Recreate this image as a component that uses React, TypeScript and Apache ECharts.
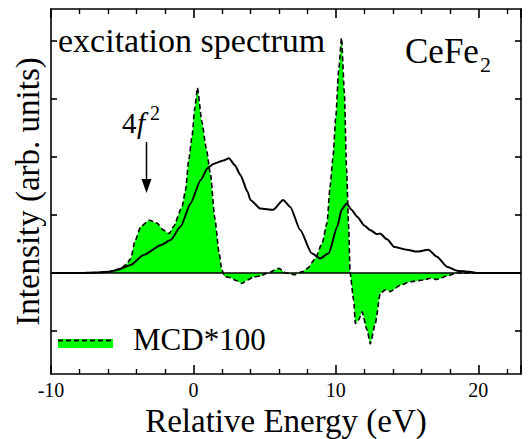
import React, { useEffect, useRef } from "react";
import * as echarts from "echarts";

// Excitation spectrum (solid black line)
const specX = [-10, -8, -7, -6, -5.4, -4.4, -3.5, -2.3, -1.6, -0.9, -0.2, 0.5, 1.0, 1.4, 2.1, 2.5, 2.9, 3.3, 3.8, 4.0, 4.7, 5.6, 6.3, 6.8, 7.5, 8.3, 8.9, 9.5, 10.1, 10.4, 10.75, 11.1, 11.5, 12.0, 12.4, 12.9, 13.1, 13.6, 14.1, 15.0, 15.7, 16.5, 17.1, 17.8, 18.5, 19.4, 20, 23];
const specY = [0, 0, 0.01, 0.02, 0.05, 0.14, 0.31, 0.48, 0.57, 0.8, 1.2, 1.6, 1.81, 1.88, 1.94, 1.98, 1.86, 1.69, 1.4, 1.26, 1.11, 1.09, 1.26, 1.14, 0.74, 0.34, 0.25, 0.34, 0.8, 1.09, 1.2, 1.09, 0.97, 0.82, 0.74, 0.67, 0.68, 0.58, 0.45, 0.4, 0.37, 0.4, 0.28, 0.11, 0.04, 0.02, 0, 0];

// MCD*100 (dashed outline, green fill)
const mcdX = [-10, -7, -6.5, -6, -5.5, -5.1, -4.7, -4.4, -4.1, -3.7, -3.1, -2.55, -2.1, -1.7, -1.4, -0.8, -0.55, -0.33, -0.1, 0.1, 0.28, 0.6, 0.9, 1.2, 1.5, 1.8, 2.0, 2.2, 2.6, 3.0, 3.4, 3.8, 4.2, 4.7, 5.2, 6.0, 6.5, 7.1, 7.6, 8.0, 8.56, 9.03, 9.38, 9.6, 9.8, 10.0, 10.2, 10.4, 10.6, 10.75, 10.9, 11.0, 11.25, 11.37, 11.6, 11.84, 12.19, 12.42, 12.77, 13.12, 13.47, 13.82, 14.53, 15.23, 16.16, 16.63, 17.1, 17.8, 18.5, 23];
const mcdY = [0, 0, 0.01, 0.02, 0.05, 0.08, 0.15, 0.25, 0.55, 0.8, 0.91, 0.86, 0.74, 0.68, 0.8, 1.14, 1.43, 1.95, 2.35, 2.85, 3.19, 2.6, 2.15, 1.7, 0.95, 0.35, 0.05, -0.06, -0.08, -0.13, -0.18, -0.12, -0.07, -0.05, 0, 0.08, 0, -0.03, 0.02, 0.08, 0.25, 0.51, 0.86, 1.5, 2.0, 2.7, 3.5, 4.05, 3.1, 1.8, 0.8, 0, -0.47, -0.87, -0.81, -0.67, -0.98, -1.22, -0.87, -0.35, -0.29, -0.32, -0.21, -0.15, -0.12, -0.09, -0.11, -0.05, 0, 0];

const xTickValues = [-10, 0, 10, 20];
const xTickLabels = ["-10", "0", "10", "20"];
const yTickValues = [-1, 0, 1, 2, 3, 4];

const FONT = "Liberation Serif";
const GREEN = "#00ff00";

export default function App() {
  const ref = useRef<HTMLDivElement>(null);
  useEffect(() => {
    document.body.style.margin = "0";
    const chart = echarts.init(ref.current!, null, { renderer: "svg" });
    const specData = specX.map((x, i) => [x, specY[i]]);
    const mcdData = mcdX.map((x, i) => [x, mcdY[i]]);
    const xBase = {
      type: "value" as const,
      min: -10,
      max: 23,
      interval: 10,
      axisLine: { onZero: false, lineStyle: { color: "#000", width: 1.6 } },
      axisTick: { inside: true, length: 9, lineStyle: { color: "#000", width: 1.6 } },
      minorTick: { show: true, splitNumber: 5, length: 5, lineStyle: { color: "#000", width: 1.4 } },
      splitLine: { show: false },
      minorSplitLine: { show: false },
    };
    const yBase = {
      type: "value" as const,
      min: -1.74,
      max: 4.55,
      axisLine: { show: true, onZero: false, lineStyle: { color: "#000", width: 1.6 } },
      axisTick: { show: true, inside: true, length: 6, customValues: yTickValues, lineStyle: { color: "#000", width: 1.6 } },
      axisLabel: { show: false },
      splitLine: { show: false },
    };
    const txt = (text: string, x: number, y: number, size: number, italic = false) => ({
      type: "text",
      x,
      y,
      z: 10,
      style: {
        text,
        fontFamily: FONT,
        fontSize: size,
        fontStyle: italic ? "italic" : "normal",
        fill: "#000",
        textVerticalAlign: "top",
      },
    });
    chart.setOption({
      animation: false,
      textStyle: { fontFamily: FONT, color: "#000" },
      grid: { left: 51, right: 7, top: 9, bottom: 65, containLabel: false, outerBoundsMode: "none" },
      xAxis: [
        {
          ...xBase,
          position: "bottom",
          axisLabel: {
            color: "#000",
            fontFamily: FONT,
            fontSize: 20,
            margin: 6,
            formatter: (v: number) => {
              const idx = xTickValues.indexOf(v);
              return idx >= 0 ? xTickLabels[idx] : "";
            },
          },
          name: "Relative Energy (eV)",
          nameLocation: "middle",
          nameGap: 30,
          nameTextStyle: { color: "#000", fontFamily: FONT, fontSize: 33 },
        },
        { ...xBase, position: "top", axisLabel: { show: false } },
      ],
      yAxis: [
        {
          ...yBase,
          position: "left",
          name: "Intensity (arb. units)",
          nameLocation: "middle",
          nameRotate: 90,
          nameGap: 7,
          nameTextStyle: { color: "#000", fontFamily: FONT, fontSize: 33 },
        },
        { ...yBase, position: "right" },
      ],
      series: [
        {
          name: "MCD*100",
          type: "line",
          data: mcdData,
          showSymbol: false,
          smooth: 0.2,
          smoothMonotone: "x",
          lineStyle: { color: "#000", width: 1.6, type: [5, 3] },
          areaStyle: { color: GREEN, opacity: 1, origin: 0 },
          z: 2,
        },
        {
          name: "spectrum",
          type: "line",
          data: specData,
          showSymbol: false,
          smooth: 0.2,
          smoothMonotone: "x",
          lineStyle: { color: "#000", width: 2 },
          z: 3,
          markLine: {
            silent: true,
            symbol: "none",
            label: { show: false },
            lineStyle: { color: "#000", width: 1.6, type: "solid" },
            data: [{ yAxis: 0 }],
          },
        },
      ],
      graphic: [
        txt("excitation spectrum", 58, 23, 34),
        txt("CeFe", 405, 34, 35),
        txt("2", 480, 53, 22),
        txt("4", 122, 108, 29),
        txt("f", 137, 108, 29, true),
        txt("2", 150, 103, 20),
        { type: "line", z: 10, shape: { x1: 146.5, y1: 142, x2: 146.5, y2: 182 }, style: { stroke: "#000", lineWidth: 1.5 } },
        { type: "polygon", z: 10, shape: { points: [[141.5, 179], [151.5, 179], [146.5, 193]] }, style: { fill: "#000" } },
        { type: "rect", z: 10, shape: { x: 58, y: 339, width: 55, height: 9 }, style: { fill: GREEN } },
        { type: "line", z: 11, shape: { x1: 58, y1: 340.5, x2: 113, y2: 340.5 }, style: { stroke: "#000", lineWidth: 2, lineDash: [5, 3] } },
        txt("MCD*100", 133, 324, 31),
      ],
    });
    return () => chart.dispose();
  }, []);
  return <div ref={ref} style={{ width: 528, height: 439 }} />;
}
